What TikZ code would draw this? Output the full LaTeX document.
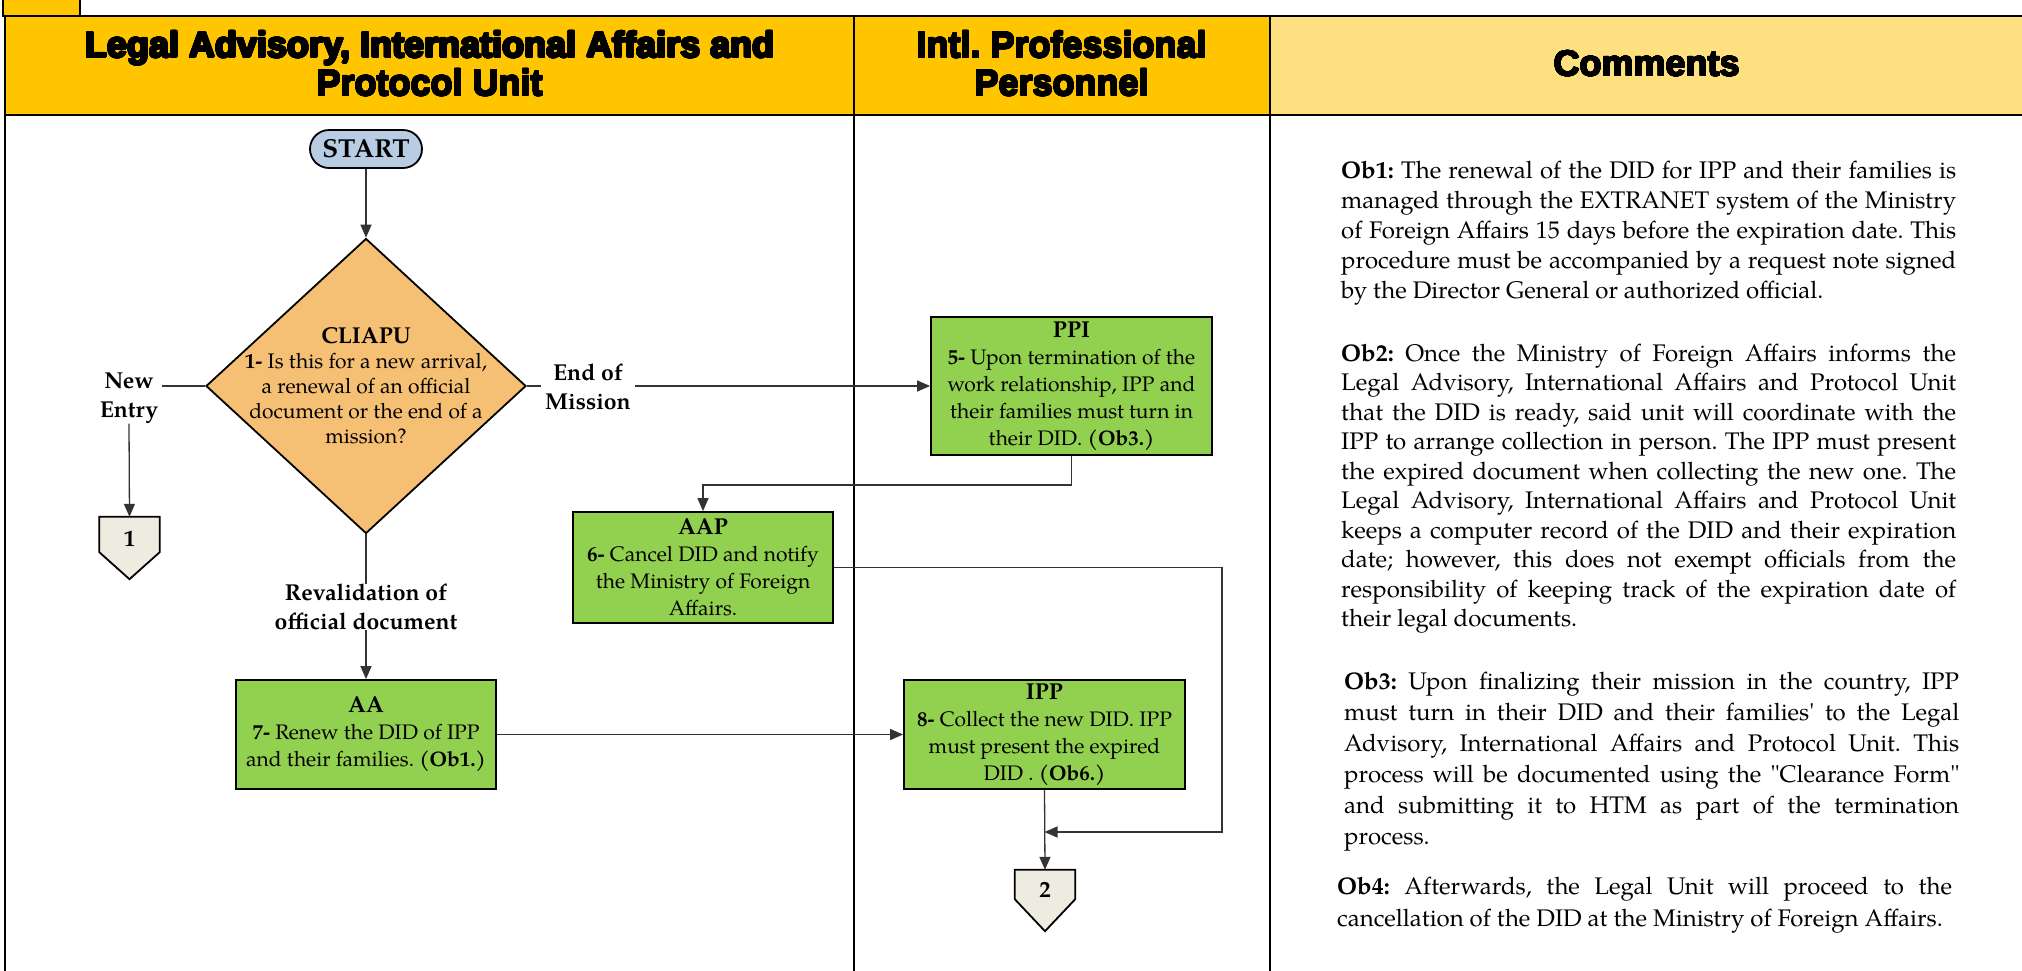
\documentclass[tikz,border=0pt]{standalone}
\usepackage{fontspec}
\setmainfont{texgyrepagella}[Extension=.otf, UprightFont=*-regular, BoldFont=*-bold, ItalicFont=*-italic, BoldItalicFont=*-bolditalic]
% same face without the TeX quote mapping, for straight quote marks
\newfontfamily\rawpagella{texgyrepagella}[Extension=.otf, UprightFont=*-regular, Ligatures=TeXOff]
\newfontfamily\headfont{Liberation Sans}[UprightFont={* Bold}]
\usepackage[copies]{contour}
\contourlength{0.9pt}
\contournumber{24}
\usetikzlibrary{arrows.meta,shapes.geometric,calc,backgrounds}

\definecolor{hdrgold}{HTML}{FFC600}
\definecolor{hdrlight}{HTML}{FFE080}
\definecolor{taskgreen}{HTML}{92D050}
\definecolor{decisionorange}{HTML}{F5C074}
\definecolor{startblue}{HTML}{B8CCE4}
\definecolor{pagebeige}{HTML}{EEECE1}

\newcommand{\sq}{{\rawpagella'}}
\newcommand{\dq}{{\rawpagella"}}
\newcommand{\boxtitle}[1]{{\fontsize{23}{27}\selectfont\bfseries #1}}
\newcommand{\heavy}[1]{\contour{black}{#1}}

\begin{document}
\frenchspacing
\begin{tikzpicture}[x=1pt,y=-1pt,
  every node/.style={inner sep=0pt},
  hdr/.style={font=\headfont\fontsize{36}{38}\selectfont, align=center},
  task/.style={draw=black, line width=1.8pt, fill=taskgreen, align=center, font=\fontsize{21}{27}\selectfont},
  flow/.style={line width=1.3pt, draw=black!80},
  arr/.style={flow, -{Triangle[length=13pt,width=11pt]}},
  lbl/.style={font=\bfseries\fontsize{23}{29}\selectfont, align=center},
  note/.style={anchor=base west, text width=615pt, align=justify, font=\fontsize{24}{29.5}\selectfont},
  pagebox/.style={draw=black, line width=1.8pt, fill=pagebeige},
  pagenum/.style={font=\bfseries\fontsize{23}{23}\selectfont, text depth=0pt},
]
\useasboundingbox (0,0) rectangle (2022,970);
\clip (0,0) rectangle (2022,970);

% corner tab and header band
\draw[fill=hdrgold, line width=2pt] (3,-5) rectangle (80,16);
\fill[hdrgold] (5,16) rectangle (1270,115);
\fill[hdrlight] (1270,16) rectangle (2030,115);
\draw[line width=2.6pt] (2030,16) -- (5,16) -- (5,115) -- (2030,115);
\draw[line width=2.6pt] (854,16) -- (854,115) (1270,16) -- (1270,115);

\node[hdr] (hL) at (430,64) {\heavy{Legal Advisory, International Affairs and}\\\heavy{Protocol Unit}};
\node[hdr] (hM) at (1062,64) {\heavy{Intl. Professional}\\\heavy{Personnel}};
\node[hdr] (hR) at (1647,64) {\heavy{Comments}};

% lane separators
\draw[line width=2.2pt] (5,115) -- (5,975) (854,115) -- (854,975) (1270,115) -- (1270,975);

% flow nodes
\node[draw=black, line width=1.8pt, fill=startblue, rounded corners=19pt, minimum width=112pt, minimum height=38pt, font=\bfseries\fontsize{26}{26}\selectfont] (start) at (366,149) {START};

\node[diamond, draw=black, line width=1.8pt, fill=decisionorange, minimum width=320pt, minimum height=295pt] (dec) at (366,386) {};
\node[align=center, font=\fontsize{21}{25}\selectfont] (dectext) at (366,386) {\boxtitle{CLIAPU}\\\textbf{1-} Is this for a new arrival,\\a renewal of an official\\document or the end of a\\mission?};

\node[lbl] (newentry) at (129,398) {New\\Entry};
\node[lbl] (endmission) at (588,387) {End of\\Mission};
\node[lbl] (reval) at (366,607) {Revalidation of\\official document};

% off-page connectors: square top part as the node, pointed tip drawn below it
\node[pagenum, minimum width=60pt, minimum height=35pt, text height=23pt] (pg1) at (129.5,534.5) {1};
\node[pagenum, minimum width=60pt, minimum height=29pt, text height=26pt] (pg2) at (1045,884.5) {2};
\begin{pgfonlayer}{background}
  \filldraw[pagebox] (pg1.north west) -- (pg1.north east) -- (pg1.south east) -- ($(pg1.south)+(0,27)$) -- (pg1.south west) -- cycle;
  \filldraw[pagebox] (pg2.north west) -- (pg2.north east) -- (pg2.south east) -- ($(pg2.south)+(0,32)$) -- (pg2.south west) -- cycle;
\end{pgfonlayer}

\node[task, minimum width=281pt, minimum height=138pt] (ppi) at (1071.5,386) {\boxtitle{PPI}\\\textbf{5-} Upon termination of the\\work relationship, IPP and\\their families must turn in\\their DID. \textbf{(Ob3.)}};
\node[task, minimum width=260pt, minimum height=111pt] (aap) at (703,567.5) {\boxtitle{AAP}\\\textbf{6-} Cancel DID and notify\\the Ministry of Foreign\\Affairs.};
\node[task, minimum width=260pt, minimum height=109pt] (aa) at (366,734.5) {\boxtitle{AA}\\\textbf{7-} Renew the DID of IPP\\and their families. \textbf{(Ob1.)}};
\node[task, minimum width=281pt, minimum height=109pt] (ipp) at (1044.5,734.5) {\boxtitle{IPP}\\\textbf{8-} Collect the new DID. IPP\\must present the expired\\DID . \textbf{(Ob6.)}};

% connectors
\draw[arr] (start.south) -- (dec.north);
\draw[flow] (dec.west) -- ([xshift=4pt]dec.west -| newentry.east);
\draw[arr] (newentry.south) -- (pg1.north);
\draw[flow] (dec.east) -- ([xshift=-4pt]dec.east -| endmission.west);
\draw[arr] ([xshift=4pt]endmission.east |- ppi.west) -- (ppi.west);
\draw[arr] (ppi.south) -- ++(0,29) -| (aap.north);
\coordinate (loopcorner) at (1222,832);
\draw[arr] (aap.east) -| (loopcorner) -- (loopcorner -| ipp.south);
\draw[arr] (ipp.south) -- (pg2.north);
\draw[flow] (dec.south) -- (reval.north);
\draw[arr] (reval.south) -- (aa.north);
\draw[arr] (aa.east) -- (ipp.west);

% comments column
\node[note, font=\fontsize{24}{30}\selectfont] (ob1) at (1341,178) {\textbf{Ob1:} The renewal of the DID for IPP and their families is\linebreak managed through the EXTRANET system of the Ministry\linebreak of Foreign Affairs 15 days before the expiration date. This\linebreak procedure must be accompanied by a request note signed\linebreak by the Director General or authorized official.};
\node[note] (ob2) at (1341,361) {\textbf{Ob2:} Once the Ministry of Foreign Affairs informs the\linebreak Legal Advisory, International Affairs and Protocol Unit\linebreak that the DID is ready, said unit will coordinate with the\linebreak IPP to arrange collection in person. The IPP must present\linebreak the expired document when collecting the new one. The\linebreak Legal Advisory, International Affairs and Protocol Unit\linebreak keeps a computer record of the DID and their expiration\linebreak date; however, this does not exempt officials from the\linebreak responsibility of keeping track of the expiration date of\linebreak their legal documents.};
\node[note, font=\fontsize{24}{31}\selectfont] (ob3) at (1344,689) {\textbf{Ob3:} Upon finalizing their mission in the country, IPP\linebreak must turn in their DID and their families\sq{} to the Legal\linebreak Advisory, International Affairs and Protocol Unit. This\linebreak process will be documented using the \dq Clearance Form\dq\linebreak and submitting it to HTM as part of the termination\linebreak process.};
\node[note, font=\fontsize{24}{32}\selectfont] (ob4) at (1337,894) {\textbf{Ob4:} Afterwards, the Legal Unit will proceed to the\linebreak cancellation of the DID at the Ministry of Foreign Affairs.};
\end{tikzpicture}
\end{document}
